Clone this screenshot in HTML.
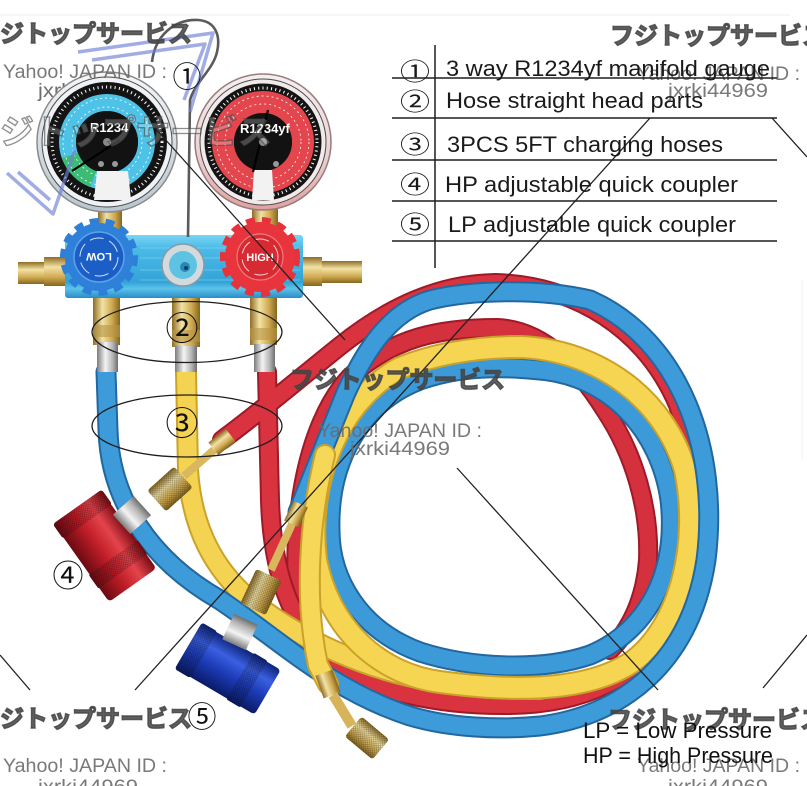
<!DOCTYPE html>
<html><head><meta charset="utf-8">
<style>
html,body{margin:0;padding:0;background:#fff;}
svg{display:block;}
</style></head>
<body>
<svg width="807" height="786" viewBox="0 0 807 786" xmlns="http://www.w3.org/2000/svg">
<defs>
 <linearGradient id="mbody" x1="0" y1="0" x2="0" y2="1">
  <stop offset="0" stop-color="#7ad6f4"/>
  <stop offset="0.2" stop-color="#4cbbe8"/>
  <stop offset="0.75" stop-color="#33a3d8"/>
  <stop offset="0.85" stop-color="#5cc2ea"/>
  <stop offset="1" stop-color="#2a8cc6"/>
 </linearGradient>
 <linearGradient id="brass" x1="0" y1="0" x2="1" y2="0">
  <stop offset="0" stop-color="#8e6c24"/>
  <stop offset="0.35" stop-color="#f2e2a4"/>
  <stop offset="0.7" stop-color="#cfa950"/>
  <stop offset="1" stop-color="#86661e"/>
 </linearGradient>
 <linearGradient id="brassV" x1="0" y1="0" x2="0" y2="1">
  <stop offset="0" stop-color="#8e6c24"/>
  <stop offset="0.35" stop-color="#f2e2a4"/>
  <stop offset="0.7" stop-color="#cfa950"/>
  <stop offset="1" stop-color="#86661e"/>
 </linearGradient>
 <linearGradient id="silv" x1="0" y1="0" x2="1" y2="0">
  <stop offset="0" stop-color="#7c7c7c"/>
  <stop offset="0.4" stop-color="#f4f4f4"/>
  <stop offset="0.75" stop-color="#b4b4b4"/>
  <stop offset="1" stop-color="#6e6e6e"/>
 </linearGradient>
 <linearGradient id="redc" x1="0" y1="0" x2="0" y2="1">
  <stop offset="0" stop-color="#7a0c14"/>
  <stop offset="0.3" stop-color="#e4444c"/>
  <stop offset="0.6" stop-color="#c21e28"/>
  <stop offset="1" stop-color="#6a0a12"/>
 </linearGradient>
 <linearGradient id="bluc" x1="0" y1="0" x2="0" y2="1">
  <stop offset="0" stop-color="#0e2478"/>
  <stop offset="0.3" stop-color="#3a5fe0"/>
  <stop offset="0.6" stop-color="#1c3cb8"/>
  <stop offset="1" stop-color="#0a1a66"/>
 </linearGradient>
 <linearGradient id="bezL" x1="0" y1="0" x2="0" y2="1">
  <stop offset="0" stop-color="#f6f6f6"/>
  <stop offset="1" stop-color="#b8c6d0"/>
 </linearGradient>
 <linearGradient id="bezR" x1="0" y1="0" x2="0" y2="1">
  <stop offset="0" stop-color="#f4f0f0"/>
  <stop offset="0.6" stop-color="#ead2d2"/>
  <stop offset="1" stop-color="#e0a0a0"/>
 </linearGradient>
 <pattern id="kn" width="3" height="3" patternUnits="userSpaceOnUse">
  <path d="M0,0 L3,3 M3,0 L0,3" stroke="#000" stroke-opacity="0.3" stroke-width="0.7"/>
 </pattern>

 <path id="hRB" d="M300,625 C288,530 305,425 350,377 C393,337 440,328 497,328 C545,330 580,370 605,410 C635,455 650,510 648,560 C645,600 630,630 610,650"/>
 <path id="hRA" d="M222,440 C260,412 300,378 340,346 C390,306 440,284 495,283 C575,285 645,328 678,405 C700,470 697,560 672,620 C642,680 580,704 510,705 C440,706 370,692 330,660 C290,625 272,570 270,500 L267,372"/>
 <path id="hBI" d="M540,370 C610,376 660,430 670,500 C678,570 650,630 590,655 C540,672 470,668 420,652 C360,630 330,580 330,530 C328,460 362,402 420,380 C460,366 500,366 540,370 Z"/>
 <path id="hY" d="M520,347 C600,350 665,400 685,470 C700,540 682,625 632,662 C582,695 500,690 440,682 C380,674 330,630 316,560 C306,480 340,400 400,368 C440,352 480,347 520,347 Z"/>
 <path id="hYL" d="M186,372 L188,470 C192,530 215,570 250,600 C300,640 370,672 440,682 C480,687 510,689 540,689"/>
 <path id="hBO" d="M106,372 L108,430 C110,500 150,560 220,600 C280,640 330,690 410,716 C450,728 500,730 540,726 C620,716 690,665 706,560 C720,450 680,340 590,300 C540,288 470,290 430,300 C390,312 365,350 345,395 L298,512"/>
 <path id="hYE" d="M325,455 C309,520 304,600 318,665 L328,684"/>
</defs>

<rect width="807" height="786" fill="#fff"/>
<line x1="0" y1="15" x2="790" y2="15" stroke="#ededed" stroke-width="1"/>
<line x1="802" y1="280" x2="802" y2="460" stroke="#f0f0f0" stroke-width="1"/>

<!-- HOSES -->
<g fill="none" stroke-linecap="round" stroke-linejoin="round">
 <use href="#hRB" stroke="#9e1a28" stroke-width="20"/>
 <use href="#hRB" stroke="#d4303e" stroke-width="16"/>
 <use href="#hRA" stroke="#9e1a28" stroke-width="20"/>
 <use href="#hRA" stroke="#d8333f" stroke-width="16"/>
 <use href="#hBI" stroke="#22679f" stroke-width="21"/>
 <use href="#hBI" stroke="#3d9ad8" stroke-width="17"/>
 <use href="#hYL" stroke="#caa22a" stroke-width="22"/>
 <use href="#hYL" stroke="#f5d352" stroke-width="18"/>
 <use href="#hY" stroke="#caa22a" stroke-width="24"/>
 <use href="#hY" stroke="#f6d552" stroke-width="20"/>
 <use href="#hBO" stroke="#22679f" stroke-width="21"/>
 <use href="#hBO" stroke="#3d9bd9" stroke-width="17"/>
 <use href="#hYE" stroke="#caa22a" stroke-width="22"/>
 <use href="#hYE" stroke="#f6d757" stroke-width="18"/>
</g>

<!-- yellow end fitting -->
<g>
 <rect x="-9" y="-12" width="18" height="24" fill="url(#brass)" transform="translate(328,684) rotate(-20)"/>
 <line x1="333" y1="695" x2="352" y2="726" stroke="#d7b45a" stroke-width="10"/>
 <g transform="translate(367,738) rotate(40)">
  <rect x="-18" y="-13" width="36" height="26" rx="3" fill="url(#brassV)"/>
  <rect x="-18" y="-13" width="36" height="26" rx="3" fill="url(#kn)"/>
 </g>
</g>

<!-- manifold fittings to hoses -->
<g>
 <rect x="93" y="297" width="27" height="48" fill="url(#brass)"/>
 <rect x="93" y="325" width="27" height="12" fill="#b89446" opacity="0.6"/>
 <rect x="97" y="342" width="21" height="30" fill="url(#silv)"/>
 <rect x="172" y="297" width="28" height="50" fill="url(#brass)"/>
 <rect x="172" y="330" width="28" height="12" fill="#b89446" opacity="0.6"/>
 <rect x="175" y="346" width="22" height="26" fill="url(#silv)"/>
 <rect x="250" y="297" width="27" height="48" fill="url(#brass)"/>
 <rect x="250" y="328" width="27" height="12" fill="#b89446" opacity="0.6"/>
 <rect x="254" y="344" width="21" height="28" fill="url(#silv)"/>
</g>

<!-- gauge stems -->
<rect x="98" y="204" width="24" height="34" fill="url(#brass)"/>
<rect x="252" y="204" width="26" height="34" fill="url(#brass)"/>

<!-- side fittings -->
<rect x="18" y="262" width="30" height="22" fill="url(#brassV)"/>
<rect x="44" y="257" width="23" height="29" fill="url(#brassV)"/>
<rect x="318" y="261" width="44" height="22" fill="url(#brassV)"/>
<rect x="302" y="257" width="20" height="29" fill="url(#brassV)"/>

<!-- manifold body -->
<rect x="65" y="235" width="238" height="63" rx="3" fill="url(#mbody)"/>
<g stroke="#9be0f8" stroke-width="0.8" opacity="0.6">
 <line x1="140" y1="248" x2="300" y2="248"/><line x1="140" y1="258" x2="300" y2="258"/>
 <line x1="140" y1="270" x2="300" y2="270"/><line x1="140" y1="280" x2="300" y2="280"/>
</g>

<!-- center port -->
<circle cx="183" cy="265" r="21" fill="#d3dade" stroke="#8a9aa2" stroke-width="1.5"/>
<circle cx="183" cy="265" r="14" fill="#5ec2e2"/>
<circle cx="185" cy="267" r="5" fill="#2a86b8"/>
<circle cx="186" cy="268" r="2" fill="#0d3f5c"/>

<!-- knobs -->
<g>
 <circle cx="99" cy="257" r="36" fill="none" stroke="#2e7fd8" stroke-width="6" stroke-dasharray="9 7"/>
 <circle cx="99" cy="257" r="34" fill="#2e80d9"/>
 <circle cx="99" cy="257" r="25" fill="#1b5fc6" stroke="#5aa4ea" stroke-width="1.5"/>
 <circle cx="99" cy="257" r="19" fill="none" stroke="#cfe2fa" stroke-width="1" stroke-dasharray="14 6"/>
 <text x="0" y="0" transform="translate(99,257) rotate(180) translate(0,4)" text-anchor="middle" font-family="Liberation Sans, sans-serif" font-weight="bold" font-size="11" fill="#fff">LOW</text>
</g>
<g>
 <circle cx="260" cy="257" r="37" fill="none" stroke="#e6323b" stroke-width="6" stroke-dasharray="9 7"/>
 <circle cx="260" cy="257" r="35" fill="#e8353d"/>
 <circle cx="260" cy="257" r="23" fill="#d82a33" stroke="#f07a7f" stroke-width="1.2"/>
 <circle cx="260" cy="257" r="18" fill="none" stroke="#fbd0d2" stroke-width="1" stroke-dasharray="14 6"/>
 <text x="260" y="261" text-anchor="middle" font-family="Liberation Sans, sans-serif" font-weight="bold" font-size="11" fill="#fff">HIGH</text>
</g>

<!-- watermark behind gauge -->
<text x="38" y="97" font-family="Liberation Sans, sans-serif" font-size="19" fill="#6e6e6e" textLength="100" lengthAdjust="spacingAndGlyphs">jxrki44969</text>

<!-- LEFT GAUGE -->
<g>
 <circle cx="107" cy="142" r="70" fill="url(#bezL)" stroke="#8a8a8a" stroke-width="1.5"/>
 <circle cx="107" cy="142" r="65" fill="#eef2f4" stroke="#4a4a4a" stroke-width="1"/>
 <circle cx="107" cy="142" r="60" fill="#141414"/>
 <circle cx="107" cy="142" r="55" fill="none" stroke="#fff" stroke-width="3" stroke-dasharray="1 3.3"/>
 <circle cx="107" cy="142" r="39.5" fill="none" stroke="#4ec3e7" stroke-width="17"/>
 <path d="M93.3,179.1 A39.5,39.5 0 0 1 69.9,155.5" fill="none" stroke="#3bbb74" stroke-width="17"/>
 <circle cx="107" cy="142" r="44" fill="none" stroke="#fff" stroke-width="0.8" stroke-dasharray="2 3"/>
 <circle cx="107" cy="142" r="35" fill="none" stroke="#fff" stroke-width="0.8" stroke-dasharray="2 3"/>
 <circle cx="107" cy="142" r="31" fill="#121212"/>
 <path d="M97,171 L128,171 L131,200 L94,200 Z" fill="#f2f2f2"/>
 <text x="90" y="132" font-family="Liberation Sans, sans-serif" font-weight="bold" font-size="13" fill="#fff">R1234</text>
 <line x1="120" y1="140" x2="72" y2="171" stroke="#000" stroke-width="2.2"/>
 <circle cx="107" cy="142" r="4" fill="#888"/>
 <circle cx="101" cy="164" r="3" fill="#999"/><circle cx="115" cy="164" r="3" fill="#999"/>
</g>

<!-- RIGHT GAUGE -->
<g>
 <circle cx="263" cy="142" r="68" fill="url(#bezR)" stroke="#9a7a7a" stroke-width="1.5"/>
 <circle cx="263" cy="142" r="63" fill="#f2eaea" stroke="#4a4a4a" stroke-width="1"/>
 <circle cx="263" cy="142" r="58.5" fill="#141414"/>
 <circle cx="263" cy="142" r="54" fill="none" stroke="#fff" stroke-width="3" stroke-dasharray="1 3.3"/>
 <circle cx="263" cy="142" r="40" fill="none" stroke="#e4464e" stroke-width="22"/>
 <circle cx="263" cy="142" r="46" fill="none" stroke="#fff" stroke-width="0.8" stroke-dasharray="2 3"/>
 <circle cx="263" cy="142" r="38" fill="none" stroke="#fff" stroke-width="0.8" stroke-dasharray="2 3"/>
 <circle cx="263" cy="142" r="29" fill="#121212"/>
 <path d="M254,170 L272,170 L274,200 L252,200 Z" fill="#f2f2f2"/>
 <text x="240" y="133" font-family="Liberation Sans, sans-serif" font-weight="bold" font-size="13" fill="#fff">R1234yf</text>
 <line x1="268" y1="110" x2="253" y2="172" stroke="#000" stroke-width="2.2"/>
 <circle cx="263" cy="142" r="4" fill="#888"/>
 <circle cx="276" cy="164" r="3" fill="#999"/>
</g>

<!-- handle wire -->
<path d="M152,62 C155,35 175,19 198,20 C215,21 221,35 217,52 C213,70 195,82 190,100 L188,237" fill="none" stroke="#5a5a5a" stroke-width="2.6"/>

<!-- blue logo watermark -->
<g fill="none" stroke="#6f80d8" stroke-width="3.5" opacity="0.65" stroke-linejoin="round">
 <polyline points="78,52 213,33 190,112"/>
 <polyline points="92,60 205,44 184,100"/>
 <polyline points="7,173 53,214 75,150"/>
 <polyline points="18,172 50,200"/>
</g>
<text x="0" y="144" font-family="Noto Sans CJK JP, sans-serif" font-weight="bold" font-size="34" fill="#f4f4f4" fill-opacity="0.25" stroke="#444" stroke-width="1.3" stroke-opacity="0.6" textLength="272" lengthAdjust="spacingAndGlyphs">ジトップサービス</text>

<!-- RED COUPLER (4) -->
<g transform="translate(105,546) rotate(54.7)">
 <rect x="-48" y="-29" width="96" height="58" rx="4" fill="url(#redc)"/>
 <rect x="-48" y="-30" width="18" height="60" rx="3" fill="url(#redc)"/>
 <rect x="-48" y="-30" width="18" height="60" rx="3" fill="url(#kn)"/>
 <rect x="14" y="-30" width="17" height="60" rx="2" fill="url(#redc)"/>
 <rect x="14" y="-30" width="17" height="60" rx="2" fill="url(#kn)"/>
</g>
<rect x="-14" y="-13" width="28" height="26" fill="url(#silv)" transform="translate(132,515) rotate(-42)"/>
<g transform="translate(170,489) rotate(-42)">
 <rect x="-18" y="-14" width="36" height="28" rx="3" fill="url(#brassV)"/>
 <rect x="-18" y="-14" width="36" height="28" rx="3" fill="url(#kn)"/>
</g>
<line x1="184" y1="476" x2="214" y2="450" stroke="#d8b75e" stroke-width="8"/>
<rect x="-11" y="-8" width="22" height="16" fill="url(#brassV)" transform="translate(222,442) rotate(-38)"/>

<!-- BLUE COUPLER (5) -->
<g transform="translate(228,669) rotate(30.4)">
 <rect x="-46" y="-26" width="92" height="52" rx="4" fill="url(#bluc)"/>
 <rect x="-46" y="-27" width="18" height="54" rx="3" fill="url(#bluc)"/>
 <rect x="-46" y="-27" width="18" height="54" rx="3" fill="url(#kn)"/>
 <rect x="14" y="-27" width="16" height="54" rx="2" fill="url(#bluc)"/>
 <rect x="14" y="-27" width="16" height="54" rx="2" fill="url(#kn)"/>
</g>
<rect x="-14" y="-13" width="28" height="26" fill="url(#silv)" transform="translate(240,632) rotate(-65)"/>
<g transform="translate(261,592) rotate(-65)">
 <rect x="-19" y="-14" width="38" height="28" rx="3" fill="url(#brassV)"/>
 <rect x="-19" y="-14" width="38" height="28" rx="3" fill="url(#kn)"/>
</g>
<line x1="271" y1="570" x2="292" y2="524" stroke="#d8b75e" stroke-width="8"/>
<rect x="-11" y="-8" width="22" height="16" fill="url(#brassV)" transform="translate(296,514) rotate(-65)"/>

<!-- ellipses -->
<ellipse cx="187" cy="332" rx="95" ry="30.5" fill="none" stroke="#1e1e1e" stroke-width="1.3"/>
<ellipse cx="187" cy="426" rx="95" ry="31" fill="none" stroke="#1e1e1e" stroke-width="1.3"/>

<!-- leader lines -->
<g stroke="#222" stroke-width="1.3">
 <line x1="650" y1="118" x2="135" y2="690"/>
 <line x1="772" y1="118" x2="807" y2="157"/>
 <line x1="155" y1="128" x2="345" y2="340"/>
 <line x1="457" y1="468" x2="658" y2="690"/>
 <line x1="763" y1="688" x2="807" y2="635"/>
 <line x1="0" y1="655" x2="30" y2="690"/>
</g>

<!-- watermarks -->
<g font-family="Noto Sans CJK JP, sans-serif" font-weight="bold" font-size="24" fill="#444" fill-opacity="0.85" stroke="#444" stroke-opacity="0.85" stroke-width="1.4">
 <text x="-24" y="42" textLength="216" lengthAdjust="spacingAndGlyphs">フジトップサービス</text>
 <text x="610" y="44" textLength="216" lengthAdjust="spacingAndGlyphs">フジトップサービス</text>
 <text x="290" y="388" textLength="215" lengthAdjust="spacingAndGlyphs">フジトップサービス</text>
 <text x="-24" y="727" textLength="216" lengthAdjust="spacingAndGlyphs">フジトップサービス</text>
 <text x="608" y="728" textLength="216" lengthAdjust="spacingAndGlyphs">フジトップサービス</text>
</g>
<g font-family="Liberation Sans, sans-serif" font-size="19" fill="#6a6a6a" fill-opacity="0.9">
 <text x="3" y="78" textLength="164" lengthAdjust="spacingAndGlyphs">Yahoo! JAPAN ID :</text>
 <text x="637" y="80" textLength="163" lengthAdjust="spacingAndGlyphs">Yahoo! JAPAN ID :</text>
 <text x="668" y="97" textLength="100" lengthAdjust="spacingAndGlyphs">jxrki44969</text>
 <text x="318" y="437" textLength="164" lengthAdjust="spacingAndGlyphs">Yahoo! JAPAN ID :</text>
 <text x="350" y="455" textLength="100" lengthAdjust="spacingAndGlyphs">jxrki44969</text>
 <text x="3" y="772" textLength="164" lengthAdjust="spacingAndGlyphs">Yahoo! JAPAN ID :</text>
 <text x="38" y="793" textLength="100" lengthAdjust="spacingAndGlyphs">jxrki44969</text>
 <text x="637" y="772" textLength="163" lengthAdjust="spacingAndGlyphs">Yahoo! JAPAN ID :</text>
 <text x="668" y="793" textLength="100" lengthAdjust="spacingAndGlyphs">jxrki44969</text>
</g>

<!-- image callout numbers -->
<g font-family="Noto Sans CJK JP, sans-serif" fill="#111" text-anchor="middle">
 <text x="187" y="87" font-size="29">①</text>
 <text x="182" y="340" font-size="33">②</text>
 <text x="182" y="435" font-size="33">③</text>
 <text x="68" y="587" font-size="31">④</text>
 <text x="202" y="727" font-size="29">⑤</text>
</g>

<!-- TABLE -->
<g stroke="#1e1e1e" stroke-width="1.5">
 <line x1="435" y1="45" x2="435" y2="268"/>
 <line x1="392" y1="78" x2="777" y2="78"/>
 <line x1="392" y1="118" x2="777" y2="118"/>
 <line x1="392" y1="160" x2="777" y2="160"/>
 <line x1="392" y1="201" x2="777" y2="201"/>
 <line x1="392" y1="241" x2="777" y2="241"/>
</g>
<g font-family="Noto Sans CJK JP, sans-serif" font-size="24" fill="#1a1a1a">
 <text x="400" y="80" textLength="30" lengthAdjust="spacingAndGlyphs">①</text>
 <text x="400" y="110" textLength="30" lengthAdjust="spacingAndGlyphs">②</text>
 <text x="400" y="153" textLength="30" lengthAdjust="spacingAndGlyphs">③</text>
 <text x="400" y="193" textLength="30" lengthAdjust="spacingAndGlyphs">④</text>
 <text x="400" y="233" textLength="30" lengthAdjust="spacingAndGlyphs">⑤</text>
</g>
<g font-family="Liberation Sans, sans-serif" font-size="22" fill="#1a1a1a">
 <text x="446" y="76" textLength="324" lengthAdjust="spacingAndGlyphs">3 way R1234yf manifold gauge</text>
 <text x="446" y="108" textLength="257" lengthAdjust="spacingAndGlyphs">Hose straight head parts</text>
 <text x="447" y="152" textLength="276" lengthAdjust="spacingAndGlyphs">3PCS 5FT charging hoses</text>
 <text x="445" y="192" textLength="293" lengthAdjust="spacingAndGlyphs">HP adjustable quick coupler</text>
 <text x="448" y="232" textLength="288" lengthAdjust="spacingAndGlyphs">LP adjustable quick coupler</text>
</g>

<!-- LP / HP -->
<g font-family="Liberation Sans, sans-serif" font-size="22" fill="#111">
 <text x="583" y="738" textLength="189" lengthAdjust="spacingAndGlyphs">LP = Low Pressure</text>
 <text x="583" y="763" textLength="190" lengthAdjust="spacingAndGlyphs">HP = High Pressure</text>
</g>
</svg>
</body></html>
